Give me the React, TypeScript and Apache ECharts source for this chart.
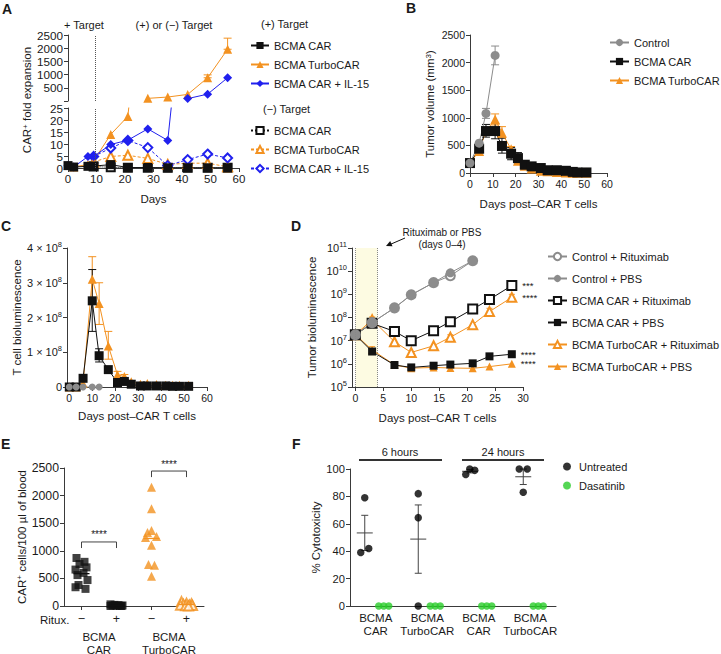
import React, { useEffect, useRef } from 'react';
import * as echarts from 'echarts';

const FONT = "Arial, 'Liberation Sans', Helvetica, sans-serif";
const ORANGE = '#f39221';
const BLUE = '#2020ee';
const GRAY = '#8c8c8c';
const BLACK = '#111111';
const GREEN = '#29cc29';
const AXIS = '#3a3a3a';
const TEXT = '#1a1a1a';

// ---------- Panel A : CAR+ fold expansion ----------
const A_days = [0, 2, 7, 9, 15, 21, 28, 35, 42, 49, 56];
const A_posCAR = [1.0, 0.4, 0.7, 0.8, 1.4, 0.2, 0.2, 0.1, 0.1, 0.1, 0.1];
const A_posTurbo = [1.0, 0.4, 1.5, 3.0, 14.0, 21.5, 100, 150, 250, 880, 1960];
const A_posIL15 = [1.0, 0.4, 4.8, 4.8, 9.8, 11.6, 16.3, 11.5, 90, 260, 880];
const A_negDays = [9, 15, 21, 28, 35, 42, 49, 56];
const A_negCAR = [0.6, 0.3, 0.1, 0.1, 0.1, 0.1, 0.1, 0.1];
const A_negTurbo = [2.5, 4.8, 5.3, 4.0, 1.5, 2.0, 2.0, 0.5];
const A_negIL15 = [4.8, 8.3, 11.5, 8.5, 1.0, 3.5, 5.8, 4.2];
const A_turboErr = [[49, 880, 990], [56, 1960, 2380]];
const A_break = 25;
const A_switchDay = 9.5;

// ---------- Panel B : tumor volume ----------
const B_ctrlDays = [0, 4, 7, 11];
const B_ctrl = [180, 540, 1080, 2130];
const B_ctrlErr = [[7, 990, 1170], [11, 1960, 2300]];
const B_days = [0, 4, 7, 11, 14, 18, 21, 24, 27, 31, 34, 38, 42, 45, 47, 51];
const B_car = [180, 440, 760, 760, 490, 350, 270, 150, 120, 90, 50, 50, 40, 20, 10, 10];
const B_turbo = [180, 400, 760, 970, 730, 430, 220, 130, 80, 40, 30, 20, 10, 5, 5, 5];
const B_carErr = [[7, 650, 880], [11, 620, 900], [14, 360, 630], [18, 240, 460], [21, 180, 370], [24, 110, 190]];
const B_turboErr = [[11, 870, 1070], [14, 640, 840], [18, 340, 480]];

// ---------- Panel C : T cell bioluminescence ----------
const C_xTicks = [0, 10, 20, 30, 40, 50, 60];
const C_ctrlDays = [0, 3, 6, 10, 13];
const C_ctrl = [0, 0, 0, 0, 0];
const C_days = [0, 3, 6, 10, 13, 17, 21, 24, 27, 31, 34, 38, 42, 45, 48, 52];
const C_car = [0, 0, 0.25e8, 2.48e8, 0.9e8, 0.5e8, 0.13e8, 0.16e8, 0.08e8, 0.03e8, 0.03e8, 0.03e8, 0.03e8, 0.02e8, 0.02e8, 0.02e8];
const C_turbo = [0, 0, 0.1e8, 3.1e8, 2.4e8, 1.18e8, 0.35e8, 0.3e8, 0.15e8, 0.08e8, 0.1e8, 0.07e8, 0.05e8, 0.05e8, 0.05e8, 0.05e8];
const C_carErr = [[10, 1.6e8, 3.38e8], [13, 0.72e8, 1.1e8]];
const C_turboErr = [[10, 2.5e8, 3.75e8], [13, 1.8e8, 3.0e8], [17, 0.8e8, 1.6e8], [21, 0.25e8, 0.45e8], [24, 0.22e8, 0.36e8]];

// ---------- Panel D : tumor bioluminescence (log) ----------
const D_xTicks = [0, 5, 10, 15, 20, 25, 30];
const D_yTicks = [1e5, 1e6, 1e7, 1e8, 1e9, 1e10, 1e11];
const D_band = [0, 4];
const D_ctrlDays = [0, 3, 7, 10, 14, 17, 21];
const D_ctrlRitux = [1.8e7, 6e7, 2.6e8, 9.5e8, 3.2e9, 6.3e9, 2.8e10];
const D_ctrlPBS = [1.8e7, 6e7, 2.6e8, 9.5e8, 3.2e9, 8.5e9, 2.8e10];
const D_days = [0, 3, 7, 10, 14, 17, 21, 24, 28];
const D_carRitux = [1.8e7, 5.6e7, 2.5e7, 1.0e7, 2.7e7, 6.6e7, 2.3e8, 6e8, 2.4e9];
const D_carPBS = [1.8e7, 3.4e6, 8.9e5, 7e5, 8.3e5, 9.3e5, 1.05e6, 2.1e6, 2.6e6];
const D_turboRitux = [1.8e7, 8e7, 9e6, 3.1e6, 6e6, 1.4e7, 4.9e7, 1.8e8, 7.4e8];
const D_turboPBS = [1.8e7, 4e6, 9e5, 6.5e5, 7e5, 6.6e5, 6.4e5, 7.6e5, 1e6];
const D_carRituxErr = [[10, 7.5e6, 1.4e7]];
const D_turboRituxErr = [[3, 6e7, 1.05e8], [17, 1.1e7, 1.8e7], [24, 1.3e8, 2.5e8], [28, 5.5e8, 1.0e9]];
const D_turboPBSErr = [[3, 3e6, 5.5e6]];
const D_sigCarRitux = '***';
const D_sigTurboRitux = '****';
const D_sigCarPBS = '****';
const D_sigTurboPBS = '****';

// ---------- Panel E : CAR+ cells in blood ----------
const E_cats = ['carMinus', 'carPlus', 'turboMinus', 'turboPlus'];
const E_catLabels = ['\u2212', '+', '\u2212', '+'];
const E_groups = ['car', 'turbo'];
const E_groupLabels = ['BCMA\nCAR', 'BCMA\nTurboCAR'];
const E_carMinus = [870, 800, 760, 700, 660, 600, 560, 470, 380, 340, 310];
const E_carPlus = [30, 20, 15, 10, 8, 5, 3, 0, 0];
const E_turboMinus = [2150, 1760, 1370, 1330, 1260, 1240, 1100, 750, 740, 540];
const E_turboPlus = [80, 50, 40, 30, 20, 15, 10, 5, 0];
const E_sigFrom = [0, 2];
const E_sigTo = [1, 3];
const E_sigY = [1160, 2445];
const E_sigDrop = [1050, 2335];
// horizontal jitter (px) of the dots, layout only
const E_jitCarMinus = [-5, 3, -2, 5, -6, 2, -4, 6, -3, -6, 4];
const E_jitCarPlus = [-6, -2, 2, 6, -4, 0, 4, -6, 5];
const E_jitTurboMinus = [0, 0, 0, -4, 5, -6, 0, -3, 3, 0];
const E_jitTurboPlus = [-5, 0, 5, -3, 3, -6, 6, -1, 2];

// ---------- Panel F : cytotoxicity ----------
const F_cats = ['car6', 'turbo6', 'car24', 'turbo24'];
const F_catLabels = ['BCMA\nCAR', 'BCMA\nTurboCAR', 'BCMA\nCAR', 'BCMA\nTurboCAR'];
const F_untreated = [[39, 79, 42], [0, 64.5, 82], [96, 100, 99], [100, 83, 100]];
const F_dasatinib = [[0, 0, 0], [0, 0, 0], [0, 0, 0], [0, 0, 0]];
const F_jitUntreated = [[-15, -11, -7], [-9, -9, -9], [-13, -9, -4], [-11, -7, -3]];
const F_jitDasatinib = [3, 8, 13];

function mean(a: number[]) { return a.reduce((s, v) => s + v, 0) / a.length; }
function sem(a: number[]) {
  const m = mean(a);
  const sd = Math.sqrt(a.reduce((s, v) => s + (v - m) * (v - m), 0) / (a.length - 1));
  return sd / Math.sqrt(a.length);
}

function buildOption(): any {
  const txt = { fontFamily: FONT, color: TEXT };
  const sup = (fs: number) => ({ sup: { fontFamily: FONT, fontSize: fs, lineHeight: 6, verticalAlign: 'top', color: TEXT } });
  const axisLine = { show: true, onZero: false, lineStyle: { color: AXIS, width: 1 } };
  const axisTick = { show: true, length: 4, lineStyle: { color: AXIS, width: 1 } };
  const plain = (v: number) => String(v);
  const vAxis = (o: any, fs = 11.5) => ({
    type: 'value', splitLine: { show: false }, axisLine, ...o,
    axisTick: { ...axisTick, ...(o.axisTick || {}) },
    axisLabel: { ...txt, fontSize: fs, margin: 5, formatter: plain, ...(o.axisLabel || {}) },
    nameTextStyle: { ...txt, fontSize: 11.5, ...(o.nameTextStyle || {}) },
  });

  const lineS = (name: string, xi: number, yi: number, xs: number[], ys: any[], o: any) => ({
    type: 'line', name, xAxisIndex: xi, yAxisIndex: yi,
    data: xs.map((x, i) => {
      const v = ys[i];
      if (o.sig && i === xs.length - 1) {
        return { value: [x, v], label: { show: true, position: 'right', distance: 5, formatter: o.sig, fontSize: 9.5, lineHeight: 9, fontFamily: FONT, color: TEXT } };
      }
      return [x, v];
    }),
    symbol: o.symbol, symbolSize: o.size,
    itemStyle: { color: o.color },
    lineStyle: { color: o.lineColor || o.color, width: 1, type: o.dash || 'solid' },
    z: o.z ?? 3, clip: true, silent: true, connectNulls: false,
    ...(o.extra || {}),
  });

  const errS = (xi: number, yi: number, rows: number[][], color: string, cap = 3) => ({
    type: 'custom', xAxisIndex: xi, yAxisIndex: yi, silent: true, z: 2,
    data: rows,
    renderItem: (_p: any, api: any) => {
      const x = api.value(0), lo = api.value(1), hi = api.value(2);
      const a = api.coord([x, lo]);
      const b = api.coord([x, hi]);
      const s = { stroke: color, lineWidth: 1, fill: 'none' };
      return {
        type: 'group', children: [
          { type: 'line', shape: { x1: a[0], y1: a[1], x2: b[0], y2: b[1] }, style: s },
          { type: 'line', shape: { x1: b[0] - cap, y1: b[1], x2: b[0] + cap, y2: b[1] }, style: s },
          { type: 'line', shape: { x1: a[0] - cap, y1: a[1], x2: a[0] + cap, y2: a[1] }, style: s },
        ],
      };
    },
  });

  const vline = (x: number) => ({
    silent: true, symbol: ['none', 'none'], label: { show: false },
    lineStyle: { type: 'dotted', color: '#555', width: 1 }, data: [{ xAxis: x }],
  });

  const upper = (ys: number[]) => ys.map((v) => (v > A_break ? v : '-'));

  // ---- E scatter data ----
  const eScatter = (name: string, cat: number, vals: number[], jit: number[], symbol: string, color: string, size: number) => ({
    type: 'scatter', name, xAxisIndex: 5, yAxisIndex: 5, symbol, symbolSize: size, silent: true, z: 3,
    itemStyle: { color },
    data: vals.map((v, i) => ({ value: [cat, v], symbolOffset: [jit[i % jit.length], 0] })),
  });
  const eMeans = [
    [0, mean(E_carMinus), BLACK], [1, mean(E_carPlus), BLACK],
    [2, mean(E_turboMinus), ORANGE], [3, mean(E_turboPlus), ORANGE],
  ];

  // ---- F data ----
  const fUnt: any[] = [];
  const fDas: any[] = [];
  const fStats: any[] = [];
  F_untreated.forEach((vals, g) => {
    vals.forEach((v, i) => fUnt.push({ value: [g, v], symbolOffset: [F_jitUntreated[g][i], 0] }));
    F_dasatinib[g].forEach((v, i) => fDas.push({ value: [g, v], symbolOffset: [F_jitDasatinib[i], 0] }));
    const m = mean(vals), s = sem(vals);
    fStats.push([g, m, m - s, m + s, mean(F_jitUntreated[g])]);
  });

  const legendBase = {
    orient: 'vertical', padding: 0, itemWidth: 18, itemHeight: 9, itemGap: 8, selectedMode: false,
    textStyle: { ...txt, fontSize: 11 }, formatter: (n: string) => n.split('|')[1],
  };

  const gText = (text: string, x: number, y: number, o: any = {}) => ({
    type: 'text', x, y, silent: true,
    style: { text, fill: TEXT, fontFamily: FONT, fontSize: 11.5, align: 'left', verticalAlign: 'middle', ...o },
  });

  return {
    animation: false,
    backgroundColor: '#ffffff',
    textStyle: { fontFamily: FONT },
    grid: [
      { left: 68, top: 35, width: 171, height: 66, outerBoundsMode: 'none' },
      { left: 68, top: 108, width: 171, height: 60, outerBoundsMode: 'none' },
      { left: 470, top: 35, width: 137, height: 138, outerBoundsMode: 'none' },
      { left: 67, top: 248, width: 140, height: 139, outerBoundsMode: 'none' },
      { left: 352, top: 248, width: 171, height: 139, outerBoundsMode: 'none' },
      { left: 64, top: 468, width: 140, height: 138, outerBoundsMode: 'none' },
      { left: 350, top: 469, width: 206, height: 137, outerBoundsMode: 'none' },
    ],
    xAxis: [
      { gridIndex: 0, type: 'value', min: 0, max: 60, show: false },
      vAxis({ gridIndex: 1, min: 0, max: 60, interval: 10, name: 'Days', nameLocation: 'middle', nameGap: 25 }),
      vAxis({ gridIndex: 2, min: 0, max: 60, interval: 10, name: 'Days post\u2013CAR T cells', nameLocation: 'middle', nameGap: 25 }, 10.5),
      vAxis({
        gridIndex: 3, min: -1, max: 60, name: 'Days post\u2013CAR T cells', nameLocation: 'middle', nameGap: 23,
        axisTick: { customValues: C_xTicks }, axisLabel: { customValues: C_xTicks },
      }, 10.5),
      vAxis({
        gridIndex: 4, min: -0.6, max: 30, name: 'Days post\u2013CAR T cells', nameLocation: 'middle', nameGap: 25,
        axisTick: { customValues: D_xTicks }, axisLabel: { customValues: D_xTicks },
      }, 10.5),
      {
        gridIndex: 5, type: 'category', data: E_cats, axisLine,
        axisTick: { ...axisTick, alignWithLabel: true },
        axisLabel: { ...txt, fontSize: 12.5, interval: 0, margin: 6, formatter: (_v: string, i: number) => E_catLabels[i] },
      },
      {
        gridIndex: 5, type: 'category', data: E_groups, position: 'bottom', offset: 18,
        axisLine: { show: false }, axisTick: { show: false },
        axisLabel: { ...txt, fontSize: 11.5, lineHeight: 13, interval: 0, margin: 6, formatter: (_v: string, i: number) => E_groupLabels[i] },
      },
      {
        gridIndex: 6, type: 'category', data: F_cats, axisLine, axisTick: { show: false },
        axisLabel: { ...txt, fontSize: 11.5, lineHeight: 12.5, interval: 0, margin: 6, formatter: (_v: string, i: number) => F_catLabels[i] },
      },
    ],
    yAxis: [
      vAxis({ gridIndex: 0, min: 0, max: 2500, interval: 500, axisLabel: { formatter: (v: number) => (v === 0 ? '' : String(v)) } }, 11.7),
      vAxis({ gridIndex: 1, min: 0, max: 25, interval: 5 }, 11.7),
      vAxis({
        gridIndex: 2, min: 0, max: 2500, interval: 500, name: 'Tumor volume (mm{sup|3})', nameLocation: 'middle', nameGap: 34,
        nameTextStyle: { rich: sup(8) },
      }, 10.5),
      vAxis({
        gridIndex: 3, min: 0, max: 4e8, interval: 1e8, name: 'T cell bioluminescence', nameLocation: 'middle', nameGap: 43,
        axisLabel: { formatter: (v: number) => (v === 0 ? '0' : `${Math.round(v / 1e8)} \u00d7 10{sup|8}`), rich: sup(7.5), lineHeight: 15 },
      }, 11),
      {
        gridIndex: 4, type: 'log', logBase: 10, min: 1e5, max: 1e11, splitLine: { show: false }, axisLine,
        minorTick: { show: false },
        axisTick: { ...axisTick, customValues: D_yTicks },
        axisLabel: {
          ...txt, fontSize: 11, margin: 5, lineHeight: 15, customValues: D_yTicks,
          formatter: (v: number) => `10{sup|${Math.round(Math.log10(v))}}`, rich: sup(7.5),
        },
        name: 'Tumor bioluminescence', nameLocation: 'middle', nameGap: 34,
        nameTextStyle: { ...txt, fontSize: 11.5 },
      },
      vAxis({
        gridIndex: 5, min: 0, max: 2500, interval: 500, name: 'CAR{sup|+} cells/100 \u00b5l of blood', nameLocation: 'middle', nameGap: 31,
        nameTextStyle: { rich: sup(8) },
      }, 12.3),
      vAxis({ gridIndex: 6, min: 0, max: 100, interval: 20, name: '% Cytotoxicity', nameLocation: 'middle', nameGap: 28 }, 11.2),
    ],
    legend: [
      { ...legendBase, left: 250, top: 40, data: ['A+|BCMA CAR', 'A+|BCMA TurboCAR', 'A+|BCMA CAR + IL-15'] },
      { ...legendBase, left: 250, top: 125, data: ['A-|BCMA CAR', 'A-|BCMA TurboCAR', 'A-|BCMA CAR + IL-15'] },
      { ...legendBase, left: 609, top: 37, itemWidth: 19, data: ['B|Control', 'B|BCMA CAR', 'B|BCMA TurboCAR'] },
      {
        ...legendBase, left: 547, top: 251, itemWidth: 19, itemGap: 11,
        data: ['D|Control + Rituximab', 'D|Control + PBS', 'D|BCMA CAR + Rituximab', 'D|BCMA CAR + PBS', 'D|BCMA TurboCAR + Rituximab', 'D|BCMA TurboCAR + PBS'],
      },
      { ...legendBase, left: 563, top: 461, itemWidth: 14, itemHeight: 8, itemGap: 8, data: ['F|Untreated', 'F|Dasatinib'] },
    ],
    series: [
      // ---- A lower (0-25) ----
      lineS('A-|BCMA CAR', 1, 1, A_negDays, A_negCAR, { symbol: 'emptyRect', size: 8, color: BLACK, dash: 'dotted', extra: { markLine: vline(A_switchDay) } }),
      lineS('A-|BCMA TurboCAR', 1, 1, A_negDays, A_negTurbo, { symbol: 'emptyTriangle', size: 9, color: ORANGE, dash: [3, 2] }),
      lineS('A-|BCMA CAR + IL-15', 1, 1, A_negDays, A_negIL15, { symbol: 'emptyDiamond', size: 9, color: BLUE, dash: [3, 2] }),
      lineS('A+|BCMA TurboCAR', 1, 1, A_days, A_posTurbo, { symbol: 'triangle', size: 9, color: ORANGE }),
      lineS('A+|BCMA CAR + IL-15', 1, 1, A_days, A_posIL15, { symbol: 'diamond', size: 9, color: BLUE }),
      lineS('A+|BCMA CAR', 1, 1, A_days, A_posCAR, { symbol: 'rect', size: 9, color: BLACK, z: 4 }),
      // ---- A upper (>25) ----
      lineS('A+|BCMA TurboCAR', 0, 0, A_days, upper(A_posTurbo), { symbol: 'triangle', size: 9, color: ORANGE, extra: { markLine: vline(A_switchDay) } }),
      lineS('A+|BCMA CAR + IL-15', 0, 0, A_days, upper(A_posIL15), { symbol: 'diamond', size: 9, color: BLUE }),
      errS(0, 0, A_turboErr, ORANGE, 4),

      // ---- B ----
      errS(2, 2, B_turboErr, ORANGE, 4),
      errS(2, 2, B_carErr, BLACK, 4),
      errS(2, 2, B_ctrlErr, GRAY, 4),
      lineS('B|BCMA TurboCAR', 2, 2, B_days, B_turbo, { symbol: 'triangle', size: 10, color: ORANGE }),
      lineS('B|BCMA CAR', 2, 2, B_days, B_car, { symbol: 'rect', size: 10, color: BLACK }),
      lineS('B|Control', 2, 2, B_ctrlDays, B_ctrl, { symbol: 'circle', size: 9, color: GRAY }),

      // ---- C ----
      errS(3, 3, C_turboErr, ORANGE, 4),
      errS(3, 3, C_carErr, BLACK, 4),
      lineS('C|BCMA TurboCAR', 3, 3, C_days, C_turbo, { symbol: 'triangle', size: 9, color: ORANGE }),
      lineS('C|BCMA CAR', 3, 3, C_days, C_car, { symbol: 'rect', size: 9, color: BLACK }),
      lineS('C|Control', 3, 3, C_ctrlDays, C_ctrl, { symbol: 'circle', size: 7, color: GRAY }),

      // ---- D ----
      lineS('D|BCMA TurboCAR + PBS', 4, 4, D_days, D_turboPBS, {
        symbol: 'triangle', size: 8, color: ORANGE, sig: D_sigTurboPBS,
        extra: {
          markArea: { silent: true, itemStyle: { color: '#fdfbe2' }, data: [[{ xAxis: D_band[0] }, { xAxis: D_band[1] }]] },
          markLine: { silent: true, symbol: ['none', 'none'], label: { show: false }, lineStyle: { type: 'dotted', color: '#888', width: 1 }, data: [{ xAxis: D_band[0] }, { xAxis: D_band[1] }] },
        },
      }),
      lineS('D|BCMA CAR + PBS', 4, 4, D_days, D_carPBS, { symbol: 'rect', size: 8, color: BLACK, sig: D_sigCarPBS }),
      lineS('D|BCMA TurboCAR + Rituximab', 4, 4, D_days, D_turboRitux, { symbol: 'emptyTriangle', size: 9, color: ORANGE, sig: D_sigTurboRitux }),
      lineS('D|BCMA CAR + Rituximab', 4, 4, D_days, D_carRitux, { symbol: 'emptyRect', size: 9, color: BLACK, sig: D_sigCarRitux }),
      lineS('D|Control + Rituximab', 4, 4, D_ctrlDays, D_ctrlRitux, { symbol: 'emptyCircle', size: 9, color: GRAY }),
      lineS('D|Control + PBS', 4, 4, D_ctrlDays, D_ctrlPBS, { symbol: 'circle', size: 9, color: GRAY }),
      errS(4, 4, D_carRituxErr, BLACK, 3),
      errS(4, 4, D_turboRituxErr, ORANGE, 3),
      errS(4, 4, D_turboPBSErr, ORANGE, 3),

      // ---- E ----
      eScatter('E|BCMA CAR -', 0, E_carMinus, E_jitCarMinus, 'rect', BLACK, 8),
      eScatter('E|BCMA CAR +', 1, E_carPlus, E_jitCarPlus, 'rect', BLACK, 8),
      eScatter('E|BCMA TurboCAR -', 2, E_turboMinus, E_jitTurboMinus, 'triangle', ORANGE, 9),
      eScatter('E|BCMA TurboCAR +', 3, E_turboPlus, E_jitTurboPlus, 'emptyTriangle', ORANGE, 9),
      {
        type: 'custom', xAxisIndex: 5, yAxisIndex: 5, silent: true, z: 4, data: eMeans,
        renderItem: (_p: any, api: any) => {
          const c = api.coord([api.value(0), api.value(1)]);
          const col = eMeans[_p.dataIndex][2] as string;
          return { type: 'line', shape: { x1: c[0] - 8, y1: c[1], x2: c[0] + 8, y2: c[1] }, style: { stroke: col, lineWidth: 1.3 } };
        },
      },
      {
        type: 'custom', xAxisIndex: 5, yAxisIndex: 5, silent: true, z: 4,
        data: E_sigFrom.map((f, i) => [f, E_sigTo[i], E_sigY[i], E_sigDrop[i]]),
        renderItem: (_p: any, api: any) => {
          const a = api.coord([api.value(0), api.value(3)]);
          const b = api.coord([api.value(0), api.value(2)]);
          const c = api.coord([api.value(1), api.value(2)]);
          const d = api.coord([api.value(1), api.value(3)]);
          return {
            type: 'group', children: [
              { type: 'polyline', shape: { points: [a, b, c, d] }, style: { stroke: '#444', fill: 'none', lineWidth: 1 } },
              { type: 'text', x: (b[0] + c[0]) / 2, y: b[1] - 2, style: { text: '****', align: 'center', verticalAlign: 'bottom', fontSize: 10, fontFamily: FONT, fill: TEXT } },
            ],
          };
        },
      },

      // ---- F ----
      {
        type: 'scatter', name: 'F|Untreated', xAxisIndex: 7, yAxisIndex: 6, symbol: 'circle', symbolSize: 7.5,
        itemStyle: { color: '#000000' }, data: fUnt, z: 3, silent: true,
      },
      {
        type: 'scatter', name: 'F|Dasatinib', xAxisIndex: 7, yAxisIndex: 6, symbol: 'circle', symbolSize: 7.5,
        itemStyle: { color: GREEN }, data: fDas, z: 3, silent: true,
      },
      {
        type: 'custom', xAxisIndex: 7, yAxisIndex: 6, silent: true, z: 2, data: fStats,
        renderItem: (_p: any, api: any) => {
          const off = api.value(4);
          const m = api.coord([api.value(0), api.value(1)]);
          const lo = api.coord([api.value(0), api.value(2)]);
          const hi = api.coord([api.value(0), api.value(3)]);
          const x = m[0] + off;
          const s = { stroke: '#444', lineWidth: 1, fill: 'none' };
          return {
            type: 'group', children: [
              { type: 'line', shape: { x1: x - 8, y1: m[1], x2: x + 8, y2: m[1] }, style: s },
              { type: 'line', shape: { x1: x, y1: lo[1], x2: x, y2: hi[1] }, style: s },
              { type: 'line', shape: { x1: x - 3.5, y1: lo[1], x2: x + 3.5, y2: lo[1] }, style: s },
              { type: 'line', shape: { x1: x - 3.5, y1: hi[1], x2: x + 3.5, y2: hi[1] }, style: s },
            ],
          };
        },
      },
    ],
    graphic: [
      gText('A', 2, 9, { fontSize: 14, fontWeight: 'bold' }),
      gText('B', 406, 8, { fontSize: 14, fontWeight: 'bold' }),
      gText('C', 1, 226, { fontSize: 14, fontWeight: 'bold' }),
      gText('D', 291, 226, { fontSize: 14, fontWeight: 'bold' }),
      gText('E', 1, 444, { fontSize: 14, fontWeight: 'bold' }),
      gText('F', 292, 444, { fontSize: 14, fontWeight: 'bold' }),
      gText('+ Target', 64, 25, { fontSize: 11 }),
      gText('(+) or (\u2212) Target', 174, 25, { align: 'center', fontSize: 11 }),
      gText('(+) Target', 261, 24, { fontSize: 11 }),
      gText('(\u2212) Target', 263, 109, { fontSize: 11 }),
      {
        type: 'text', x: 27, y: 100, rotation: Math.PI / 2, silent: true,
        style: { text: 'CAR{sup|+} fold expansion', rich: sup(8), fill: TEXT, fontFamily: FONT, fontSize: 11.5, align: 'center', verticalAlign: 'middle' },
      },
      gText('Rituximab or PBS', 442, 232, { align: 'center', fontSize: 10 }),
      gText('(days 0\u20134)', 442, 244, { align: 'center', fontSize: 10 }),
      { type: 'line', silent: true, shape: { x1: 405, y1: 238, x2: 390, y2: 244.5 }, style: { stroke: '#111', lineWidth: 1 } },
      { type: 'polygon', silent: true, shape: { points: [[386, 246], [392.5, 246.2], [390.2, 241]] }, style: { fill: '#111' } },
      gText('Ritux.', 40, 620, { fontSize: 11.5 }),
      gText('6 hours', 400, 452, { align: 'center', fontSize: 11 }),
      { type: 'line', silent: true, shape: { x1: 359, y1: 460, x2: 442, y2: 460 }, style: { stroke: '#333', lineWidth: 2 } },
      gText('24 hours', 503, 452, { align: 'center', fontSize: 11 }),
      { type: 'line', silent: true, shape: { x1: 462, y1: 460, x2: 544, y2: 460 }, style: { stroke: '#333', lineWidth: 2 } },
    ],
  };
}

export default function App() {
  const ref = useRef<HTMLDivElement>(null);
  useEffect(() => {
    if (!ref.current) return;
    const chart = echarts.init(ref.current, null, { renderer: 'svg' });
    chart.setOption(buildOption());
    return () => chart.dispose();
  }, []);
  return (
    <div
      ref={ref}
      style={{ position: 'absolute', left: 0, top: 0, width: 721, height: 654, background: '#ffffff' }}
    />
  );
}
